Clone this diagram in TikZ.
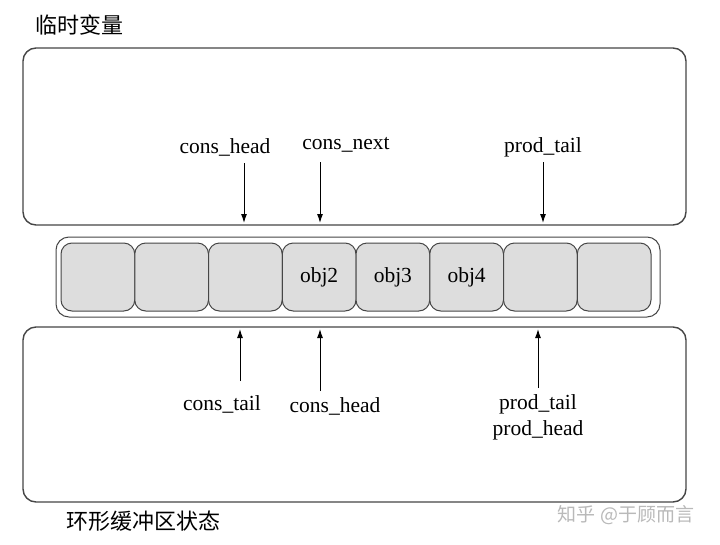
\documentclass[tikz,border=0pt]{standalone}
\usepackage{fontspec}
\setmainfont{Liberation Serif}
\newfontfamily\cjk{Noto Sans CJK SC}
\usetikzlibrary{arrows.meta}
\definecolor{lineC}{RGB}{70,70,70}
\definecolor{cellC}{RGB}{221,221,221}
\definecolor{wmC}{RGB}{185,185,185}
\begin{document}
\begin{tikzpicture}[x=1pt,y=-1pt,
  panel/.style={draw=lineC,line width=1.4pt,rounded corners=13pt},
  cellbox/.style={draw=lineC,line width=1pt,fill=cellC,rounded corners=11pt,minimum width=73.75pt,minimum height=68pt,inner sep=0pt,outer sep=0pt,anchor=west},
  lbl/.style={font=\fontsize{21.5}{23}\selectfont,inner sep=1pt},
  ttl/.style={font=\cjk\fontsize{22}{24}\selectfont,inner sep=0pt},
  ptr/.style={draw=black,line width=1pt,-{Latex[length=9pt,width=6pt]}}]
\useasboundingbox (0,0) rectangle (720,544);
\fill[white] (0,0) rectangle (720,544);
% titles
\node[ttl] (t1) at (79,25) {临时变量};
\node[ttl] (t2) at (143,521) {环形缓冲区状态};
\node[font=\cjk\fontsize{19}{21}\selectfont,text=wmC,inner sep=0pt] (wm) at (626,515) {知乎 @于顾而言};
% panels
\draw[panel] (23,48) rectangle (686,225);
\draw[panel] (23,327) rectangle (686,502);
\draw[draw=lineC,line width=1pt,rounded corners=13pt] (56,237) rectangle (660,317);
% cells
\node[cellbox] (c1) at (61,277) {};
\node[cellbox] (c2) at (c1.east) {};
\node[cellbox] (c3) at (c2.east) {};
\node[cellbox,font=\fontsize{21.5}{23}\selectfont] (c4) at (c3.east) {obj2};
\node[cellbox,font=\fontsize{21.5}{23}\selectfont] (c5) at (c4.east) {obj3};
\node[cellbox,font=\fontsize{21.5}{23}\selectfont] (c6) at (c5.east) {obj4};
\node[cellbox] (c7) at (c6.east) {};
\node[cellbox] (c8) at (c7.east) {};
% top pointers
\node[lbl] (ch1) at (225,147) {cons\_head};
\node[lbl] (cn1) at (346,145) {cons\_next};
\node[lbl] (pt1) at (543,147) {prod\_tail};
\coordinate (a1) at (244,223);
\coordinate (a2) at (320,223);
\coordinate (a3) at (543,223);
\draw[ptr] (244,163) -- (a1);
\draw[ptr] (320,162) -- (a2);
\draw[ptr] (543,162) -- (a3);
% bottom pointers
\node[lbl] (ct2) at (222,404) {cons\_tail};
\node[lbl] (ch2) at (335,406) {cons\_head};
\node[lbl] (pt2) at (538,404) {prod\_tail};
\node[lbl] (ph2) at (538,430) {prod\_head};
\coordinate (b1) at (240,329);
\coordinate (b2) at (320,329);
\coordinate (b3) at (538,329);
\draw[ptr] (240,381) -- (b1);
\draw[ptr] (320,391) -- (b2);
\draw[ptr] (538,388) -- (b3);
\end{tikzpicture}
\end{document}
